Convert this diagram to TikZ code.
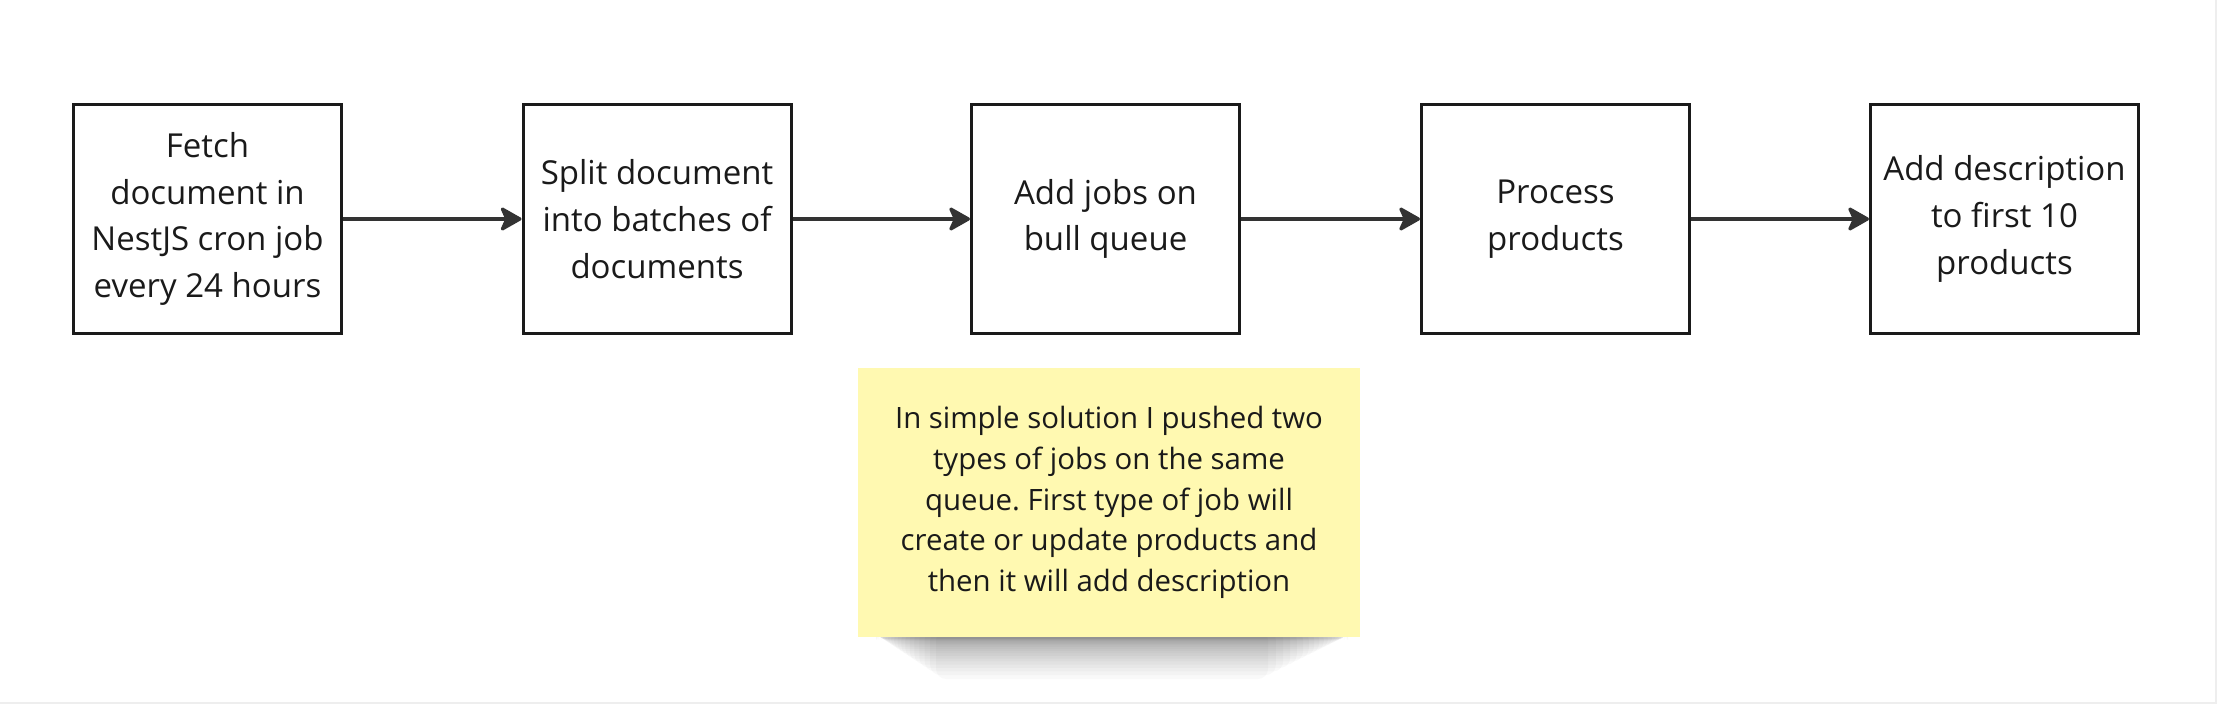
\documentclass[tikz,border=0pt]{standalone}
\usepackage{fontspec}
\setmainfont{Open Sans}
\usetikzlibrary{arrows.meta}
\frenchspacing
\definecolor{ink}{HTML}{1A1A1A}
\definecolor{arr}{HTML}{333333}
\definecolor{sticky}{HTML}{FFF9B1}
\definecolor{edge}{HTML}{EEEEEE}
\tikzset{
  stepbox/.style={draw=ink, line width=1.5pt, fill=white, minimum width=134pt, minimum height=114.5pt,
    inner sep=0pt, align=center, text=ink, font=\fontsize{16.5}{23.4}\selectfont},
  flow/.style={draw=arr, line width=1.6pt, -{Stealth[length=12pt,width=13.5pt,inset=3pt,round]}},
  note/.style={fill=sticky, minimum width=251pt, minimum height=134.5pt, inner sep=0pt, align=center,
    text=ink, font=\fontsize{14.7}{20.35}\selectfont},
  shadowlayer/.style={fill=black, fill opacity=0.022, draw=none}
}
\begin{document}
\begin{tikzpicture}[x=0.5pt,y=-0.5pt]
\useasboundingbox (0,0) rectangle (2217,704);
\fill[white] (0,0) rectangle (2217,704);
\draw[edge, line width=0.8pt] (0,703) -- (2216,703) -- (2216,0);
% sticky-note shadow
\foreach \k in {0,...,20}{
  \fill[shadowlayer, rounded corners=5pt] ({876+0.15*\k*\k},630) rectangle ({1348-0.2*\k*\k},{639+0.1*\k*\k});
}
\node[note] (n) at (1109,502.5) {In simple solution I pushed two\\types of jobs on the same\\queue. First type of job will\\create or update products and\\then it will add description};
\node[stepbox] (b1) at (207.5,219) {Fetch\\document in\\NestJS cron job\\every 24 hours};
\node[stepbox] (b2) at (657,219) {Split document\\into batches of\\documents};
\node[stepbox] (b3) at (1105.5,219) {Add jobs on\\bull queue};
\node[stepbox] (b4) at (1555.5,219) {Process\\products};
\node[stepbox] (b5) at (2004.5,219) {Add description\\to first 10\\products};
\draw[flow] (b1) -- (b2);
\draw[flow] (b2) -- (b3);
\draw[flow] (b3) -- (b4);
\draw[flow] (b4) -- (b5);
\end{tikzpicture}
\end{document}
